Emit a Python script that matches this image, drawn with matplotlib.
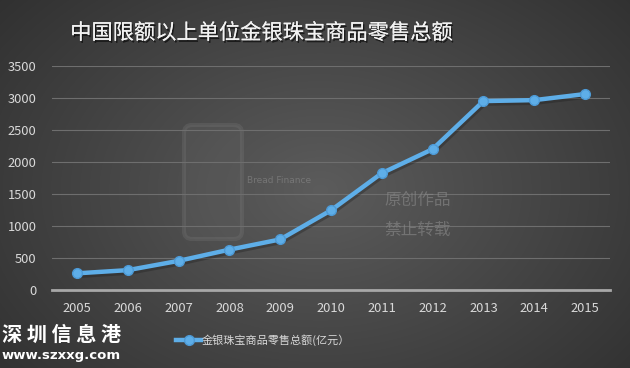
import matplotlib.pyplot as plt
import matplotlib.patheffects as pe
from matplotlib.patches import FancyBboxPatch
from matplotlib.transforms import ScaledTranslation
import numpy as np

plt.rcParams['font.family'] = ['Noto Sans CJK SC', 'DejaVu Sans']

years = [2005, 2006, 2007, 2008, 2009, 2010, 2011, 2012, 2013, 2014, 2015]
sales = [260, 310, 455, 630, 790, 1245, 1825, 2200, 2950, 2965, 3060]
yticks = [0, 500, 1000, 1500, 2000, 2500, 3000, 3500]
title = "中国限额以上单位金银珠宝商品零售总额"
series_label = "金银珠宝商品零售总额(亿元）"

fig = plt.figure(figsize=(6.3, 3.68), dpi=100)

# dark radial background
bg = fig.add_axes([0, 0, 1, 1], zorder=-10)
yy, xx = np.mgrid[0:368, 0:630]
r = np.sqrt(((xx - 320) / 420.0) ** 2 + ((yy - 190) / 300.0) ** 2)
shade = np.clip(0.36 - 0.17 * r, 0.17, 0.36)
bg.imshow(np.dstack([shade] * 3), aspect='auto', extent=[0, 630, 368, 0])
bg.set_xlim(0, 630)
bg.set_ylim(368, 0)
bg.axis('off')

# faint logo watermark
bg.add_patch(FancyBboxPatch((186, 127), 54, 110, boxstyle='round,pad=2,rounding_size=8',
                            fill=True, fc='#6a6a6a', ec='#8a8a8a', lw=3, alpha=0.2))

ax = fig.add_axes([0.082, 0.212, 0.887, 0.609])
ax.set_facecolor('none')
shadow = ScaledTranslation(1 / 100, -2 / 100, fig.dpi_scale_trans)
ax.plot(years, sales, color='#1e1e1e', lw=4, alpha=0.35, zorder=2,
        transform=ax.transData + shadow)
line, = ax.plot(years, sales, color='#5eaee8', lw=3.2, marker='o', ms=7,
                markerfacecolor='#5eaee8', markeredgecolor='#4d9ad6', zorder=3,
                label=series_label)
ax.set_xlim(2004.5, 2015.5)
ax.set_ylim(0, 3500)
ax.set_yticks(yticks)
ax.set_xticks(years)
ax.grid(axis='y', color='#6e6e6e', lw=0.8)
ax.set_axisbelow(True)
for s in ['top', 'right', 'left']:
    ax.spines[s].set_visible(False)
ax.spines['bottom'].set_color('#a8a8a8')
ax.spines['bottom'].set_linewidth(2)
ax.tick_params(length=0, colors='#d9d9d9', labelsize=9.3, pad=9)
ax.tick_params(axis='y', pad=11)

fig.text(0.415, 0.91, title, color='#f2f2f2', fontsize=15.3, ha='center', va='center',
         path_effects=[pe.withSimplePatchShadow(offset=(1, -1.5), shadow_rgbFace='black', alpha=0.6),
                       pe.Normal()])

leg = fig.legend(handles=[line], loc='center', bbox_to_anchor=(0.418, 0.075),
                 frameon=False, fontsize=8, labelcolor='#d9d9d9',
                 handlelength=2.2, handletextpad=0.1)

# watermarks
fig.text(0.003, 0.09, "深 圳 信 息 港", color='white', fontsize=14.5, fontweight='bold',
         ha='left', va='center')
fig.text(0.003, 0.035, "www.szxxg.com", color='white', fontsize=9.5, fontweight='bold',
         family='DejaVu Sans', ha='left', va='center')
fig.text(0.392, 0.51, "Bread Finance", color='#8a8a8a', fontsize=6.5, alpha=0.6,
         family='DejaVu Sans', ha='left', va='center')
fig.text(0.61, 0.455, "原创作品", color='#8a8a8a', fontsize=12, alpha=0.6, ha='left', va='center')
fig.text(0.61, 0.375, "禁止转载", color='#8a8a8a', fontsize=12, alpha=0.6, ha='left', va='center')

fig.savefig('out.png', dpi=100)
